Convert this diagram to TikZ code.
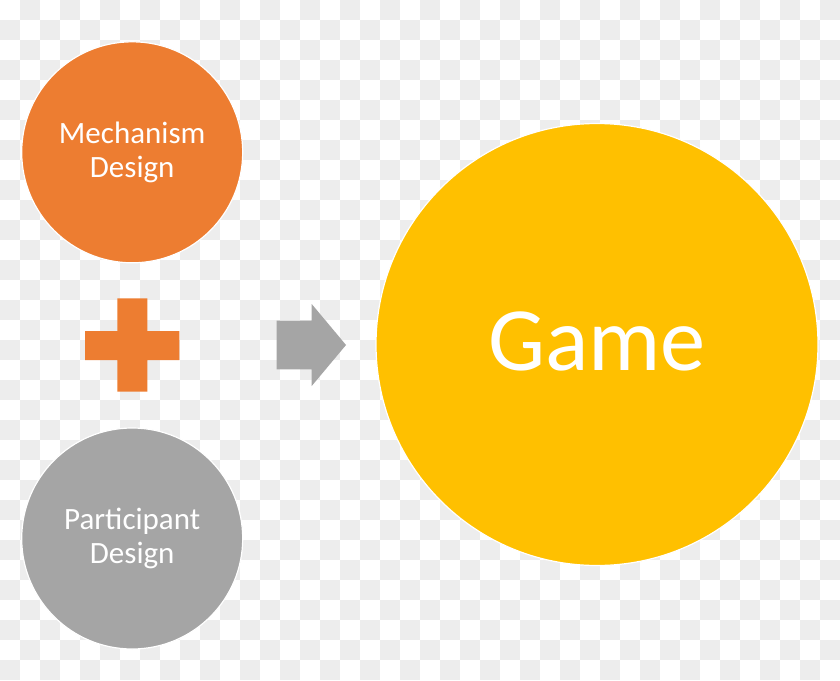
\documentclass[tikz,border=0pt]{standalone}
\usepackage{fontspec}
\setmainfont{Carlito}
\definecolor{checkgray}{RGB}{237,237,237}
\definecolor{mechorange}{RGB}{237,125,49}
\definecolor{partgray}{RGB}{165,165,165}
\definecolor{gamegold}{RGB}{255,192,0}
\tikzset{
  disc/.style={circle, inner sep=0pt, draw=white, line width=1.2pt, text=white, align=center},
  smalldisc/.style={disc, minimum size=221pt, font=\fontsize{31}{34.5}\selectfont},
  bigdisc/.style={disc, minimum size=442pt, font=\fontsize{90.5}{96}\selectfont, text height=51pt, text depth=0pt}
}
\begin{document}
\begin{tikzpicture}[x=1pt, y=-1pt]
  \useasboundingbox (0,0) rectangle (840,680);
  \fill[white] (0,0) rectangle (840,680);
  % checkerboard of the transparent background
  \foreach \j in {0,...,33} {
    \pgfmathtruncatemacro{\startx}{mod(\j+1,2)*20}
    \pgfmathtruncatemacro{\yy}{\j*20}
    \pgfmathtruncatemacro{\yb}{\j*20+20}
    \foreach \k in {0,...,20} {
      \pgfmathtruncatemacro{\xx}{\startx+\k*40}
      \pgfmathtruncatemacro{\xb}{\xx+20}
      \path[fill=checkgray] (\xx,\yy) rectangle (\xb,\yb);
    }
  }
  % circles
  \node[smalldisc, fill=mechorange] (mech) at (132.2,152.3) {Mechanism\\Design};
  \node[smalldisc, fill=partgray] (part) at (132.2,538.5) {Participant\\Design};
  \node[bigdisc, fill=gamegold] (game) at (597,344.5) {Game};
  % plus sign
  \fill[mechorange] (85,331) -- (117.3,331) -- (117.3,298.3) -- (147.3,298.3) -- (147.3,331)
    -- (179.3,331) -- (179.3,360) -- (147.3,360) -- (147.3,391.7) -- (117.3,391.7)
    -- (117.3,360) -- (85,360) -- cycle;
  % arrow
  \fill[partgray] (276.7,320.7) -- (311.7,320.7) -- (311.7,304) -- (346,345) -- (311.7,386)
    -- (311.7,369.3) -- (276.7,369.3) -- cycle;
\end{tikzpicture}
\end{document}
